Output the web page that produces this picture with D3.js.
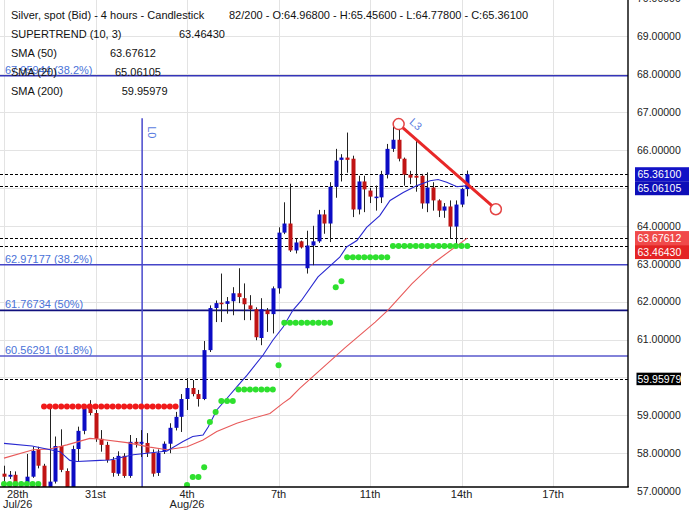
<!DOCTYPE html>
<html><head><meta charset="utf-8">
<script src="https://cdn.jsdelivr.net/npm/d3@7"></script>
<style>body{margin:0;background:#fff}svg{display:block}text{font-family:"Liberation Sans",Arial,sans-serif}</style>
</head><body>
<svg id="chart" width="690" height="510"></svg>
<script>
// ---- data ----
const open  = [57.46,57.38,57.43,57.17,57.22,57.38,58.09,57.67,57.05,57.25,58.19,57.53,57.08,58.11,58.59,59.27,59.06,58.38,58.22,57.82,57.46,57.93,57.40,58.30,58.25,58.27,58.01,57.48,58.04,58.25,58.67,58.96,59.43,59.72,59.56,59.43,60.72,61.83,61.97,61.94,62.01,62.22,62.09,61.90,61.80,61.04,61.77,61.67,62.35,63.82,64.06,63.35,63.59,62.88,63.48,63.59,64.30,64.06,65.03,65.74,65.80,65.77,64.43,65.17,64.93,64.73,64.75,65.35,66.03,66.27,65.77,65.35,65.32,65.32,64.59,65.01,64.67,64.40,64.51,63.98,64.56,64.968];
const high  = [57.67,57.53,57.52,57.25,57.98,58.17,58.17,57.72,59.27,58.44,58.63,57.60,58.20,58.70,59.27,59.40,59.14,58.61,58.30,57.90,58.05,58.00,58.48,58.40,58.61,58.53,58.10,58.10,58.31,58.79,59.09,59.56,59.98,59.93,59.67,60.96,61.90,62.03,62.74,62.12,62.38,62.88,62.48,62.17,61.85,62.09,61.83,62.40,63.96,64.62,65.11,63.67,63.61,63.87,64.00,64.42,64.42,65.15,66.03,65.89,66.46,65.85,65.32,65.32,65.00,65.06,65.45,66.16,66.62,66.69,65.80,65.45,66.29,65.37,65.41,65.15,64.70,64.60,64.67,64.67,65.00,65.456];
const low   = [57.08,57.32,57.11,57.12,57.15,57.35,57.60,57.02,57.00,57.20,57.50,57.02,57.00,57.78,58.50,59.00,58.30,58.04,57.75,57.38,57.40,57.35,57.35,58.15,57.90,57.90,57.38,57.40,57.98,58.00,58.60,58.56,59.14,59.50,59.23,59.40,60.67,61.46,61.46,61.68,61.64,61.96,61.51,61.51,60.98,60.85,61.20,61.16,62.21,63.78,63.31,63.27,63.40,62.74,62.96,63.55,63.79,63.57,64.74,65.17,65.40,64.23,64.30,64.36,64.60,64.40,64.60,65.25,65.95,65.70,65.06,65.10,64.90,64.45,64.36,64.40,64.23,64.21,63.66,63.48,64.49,64.778];
const close = [57.38,57.43,57.19,57.22,57.38,58.06,57.67,57.08,57.25,58.19,57.56,57.08,58.11,58.59,59.19,59.06,58.38,58.22,57.82,57.48,57.93,57.40,58.30,58.25,58.30,58.01,57.46,58.01,58.25,58.67,58.96,59.43,59.72,59.56,59.43,60.72,61.83,61.96,61.94,62.01,62.22,62.12,61.93,61.80,61.06,61.80,61.67,62.35,63.82,64.06,63.35,63.56,63.43,63.48,63.59,64.30,64.06,65.03,65.72,65.80,65.74,64.43,65.17,64.96,64.77,64.77,65.35,66.03,66.27,65.77,65.35,65.27,65.27,64.59,65.01,64.67,64.40,64.51,63.98,64.56,64.97,65.361];

// supertrend (10,3): value per bar and direction (1 = up/green, -1 = down/red)
const supertrend = [57.19,57.19,57.19,57.19,57.19,57.19,57.19,
  59.23,59.23,59.23,59.23,59.23,59.23,59.23,59.23,59.23,59.23,59.23,59.23,59.23,59.23,59.23,59.23,59.23,59.23,59.23,59.23,59.23,59.23,59.23,59.23,
  null,
  57.16,57.37,57.37,57.63,58.82,59.09,59.38,59.38,59.38,
  59.68,59.68,59.68,59.68,59.68,59.68,59.68,
  60.32,
  61.44,61.44,61.44,61.44,61.44,61.44,61.44,61.44,61.44,
  62.38,62.54,
  63.17,63.17,63.17,63.17,63.17,63.17,63.17,63.17,
  63.4643,63.4643,63.4643,63.4643,63.4643,63.4643,63.4643,63.4643,63.4643,63.4643,63.4643,63.4643,63.4643,63.4643];
const supertrendDir = [1,1,1,1,1,1,1,
  -1,-1,-1,-1,-1,-1,-1,-1,-1,-1,-1,-1,-1,-1,-1,-1,-1,-1,-1,-1,-1,-1,-1,-1,
  0,
  1,1,1,1,1,1,1,1,1, 1,1,1,1,1,1,1, 1, 1,1,1,1,1,1,1,1,1, 1,1, 1,1,1,1,1,1,1,1,
  1,1,1,1,1,1,1,1,1,1,1,1,1,1];

// SMA lines as [bar index, value]
const sma20 = [[0,58.26],[4.9,58.19],[9.8,58.04],[11.5,57.81],[12.8,57.78],[16.8,57.81],[18.5,57.82],[22.6,57.96],[25,58.0],[28.5,58.06],[31.3,58.31],[33,58.44],[34.8,58.48],[35.7,58.69],[37.2,59.14],[39,59.45],[40.7,59.75],[42.5,60.06],[45.3,60.59],[47,60.98],[48.8,61.33],[50.5,61.77],[52,62.03],[54.9,62.65],[58.7,63.17],[59.9,63.44],[61.7,63.61],[63.4,63.96],[65.7,64.27],[67.5,64.67],[69.8,64.88],[72.2,65.06],[74.5,65.19],[75.9,65.22],[77.4,65.15],[79.2,65.03],[81,65.06105]];
const sma50 = [[0,57.87],[5.1,58.09],[8,58.11],[11,58.22],[15,58.39],[16.8,58.37],[21.5,58.28],[25.5,58.16],[28.5,58.09],[32,58.17],[34.8,58.35],[37.2,58.57],[40.7,58.79],[43.5,58.92],[46.5,59.05],[48.8,59.32],[50,59.45],[51.7,59.71],[59.6,60.78],[64.9,61.46],[67.1,61.77],[71.3,62.47],[75.3,63.04],[81,63.67612]];

// Fibonacci levels
const fibValues = [67.95944, 62.97177, 61.76734, 60.56291];
const fibLabels = ["67.95944 (38.2%)", "62.97177 (38.2%)", "61.76734 (50%)", "60.56291 (61.8%)"];

// dashed reference levels (last price, SMA20, SMA50, supertrend, SMA200)
const levelValues = [65.361, 65.06105, 63.67612, 63.4643, 59.95979];

// trend line L3 (bar index, price) and vertical line L0
const trendIdx = [69, 86];
const trendVal = [66.684, 64.437];
const l0Idx = 24.15;
const l0Top = 66.84;

// axes
const yTicks = [57,58,59,60,61,62,63,64,65,66,67,68,69,70];
const xTickIdx = [0,16,32,48,64,80,96];
const xTickDay = ["28th","31st","4th","7th","11th","14th","17th"];
const xTickMonth = ["Jul/26","","Aug/26","","","",""];

const infoNames = ["SUPERTREND (10, 3)", "SMA (50)", "SMA (20)", "SMA (200)"];
const infoValues = ["63.46430", "63.67612", "65.06105", "59.95979"];

// ---- drawing ----
const svg = d3.select("#chart");
const W = 628, H = 487;
const x = d3.scaleLinear().domain([-0.7, 109.1]).range([0, W]);
const y = d3.scaleLinear().domain([57, 70]).range([491.1, -1.6]);
const font = '"Liberation Sans",Arial,sans-serif';

svg.append("defs").append("clipPath").attr("id","plot")
  .append("rect").attr("x",0).attr("y",0).attr("width",W).attr("height",H);

const grid = svg.append("g").attr("clip-path","url(#plot)");
grid.selectAll("line.h").data(yTicks).join("line")
  .attr("x1",0).attr("x2",W).attr("y1",d=>Math.round(y(d))+0.5).attr("y2",d=>Math.round(y(d))+0.5)
  .attr("stroke","#e3e3e3").attr("stroke-width",1);
grid.selectAll("line.v").data(xTickIdx).join("line")
  .attr("x1",d=>Math.round(x(d))+0.5).attr("x2",d=>Math.round(x(d))+0.5).attr("y1",0).attr("y2",H)
  .attr("stroke","#e3e3e3").attr("stroke-width",1);

const plot = svg.append("g").attr("clip-path","url(#plot)");

// fib lines
const fibColors = ["#3535b8","#4545c8","#10107e","#5858cc"];
plot.selectAll("line.fib").data(fibValues).join("line")
  .attr("x1",0).attr("x2",W).attr("y1",d=>y(d)).attr("y2",d=>y(d))
  .attr("stroke",(d,i)=>fibColors[i]).attr("stroke-width",1.6);

// dashed levels
plot.selectAll("line.lvl").data(levelValues).join("line")
  .attr("x1",0).attr("x2",W).attr("y1",d=>Math.round(y(d))+0.5).attr("y2",d=>Math.round(y(d))+0.5)
  .attr("stroke","#000").attr("stroke-width",1).attr("stroke-dasharray","3,2");

// vertical L0
plot.append("line").attr("x1",x(l0Idx)).attr("x2",x(l0Idx)).attr("y1",y(l0Top)).attr("y2",H)
  .attr("stroke","#4848cc").attr("stroke-width",1.5);

// candles
const idx = d3.range(close.length);
const cg = plot.append("g");
cg.selectAll("line.wick").data(idx).join("line")
  .attr("x1",i=>Math.round(x(i))+0.5).attr("x2",i=>Math.round(x(i))+0.5)
  .attr("y1",i=>y(high[i])).attr("y2",i=>y(low[i]))
  .attr("stroke","#222").attr("stroke-width",1);
cg.selectAll("rect.body").data(idx).join("rect")
  .attr("x",i=>Math.round(x(i))-1.5).attr("width",4)
  .attr("y",i=>y(Math.max(open[i],close[i])))
  .attr("height",i=>Math.max(1.5, Math.abs(y(open[i])-y(close[i]))))
  .attr("fill",i=>close[i]>=open[i] ? "#0c0cc4" : "#c01414");

// SMA lines
const line = d3.line().x(d=>x(d[0])).y(d=>y(d[1]));
plot.append("path").attr("d",line(sma50)).attr("fill","none").attr("stroke","#e85a5a").attr("stroke-width",1.1);
plot.append("path").attr("d",line(sma20)).attr("fill","none").attr("stroke","#2828d0").attr("stroke-width",1.1);

// supertrend dots
plot.selectAll("circle.st").data(idx.filter(i=>supertrend[i]!==null)).join("circle")
  .attr("cx",i=>x(i)).attr("cy",i=>y(supertrend[i])).attr("r",3)
  .attr("fill",i=>supertrendDir[i]>0 ? "#2ee02e" : "#f01a1a");

// trend line L3
const tx1=x(trendIdx[0]), ty1=y(trendVal[0]), tx2=x(trendIdx[1]), ty2=y(trendVal[1]);
plot.append("line").attr("x1",tx1).attr("y1",ty1).attr("x2",tx2).attr("y2",ty2)
  .attr("stroke","#e82828").attr("stroke-width",3);
plot.selectAll("circle.tp").data([0,1]).join("circle")
  .attr("cx",k=>x(trendIdx[k])).attr("cy",k=>y(trendVal[k])).attr("r",5.5)
  .attr("fill","#fff").attr("stroke","#e44444").attr("stroke-width",1.5);
const ang = Math.atan2(ty2-ty1, tx2-tx1)*180/Math.PI;
svg.append("text").attr("transform",`translate(${tx1+10},${ty1-1}) rotate(${ang})`)
  .attr("font-size",11).attr("fill","#5a7ce0").text("L3");
svg.append("text").attr("transform",`translate(${x(l0Idx)+6},${y(l0Top)+8}) rotate(90)`)
  .attr("font-size",11).attr("fill","#5a7ce0").text("L0");

// fib labels
svg.selectAll("text.fib").data(fibValues).join("text")
  .attr("x",5).attr("y",d=>y(d)-2).attr("font-size",11).attr("fill","#4a72d8")
  .text((d,i)=>fibLabels[i]);

// axes lines
svg.append("line").attr("x1",0).attr("x2",W+0.75).attr("y1",H).attr("y2",H).attr("stroke","#000").attr("stroke-width",1.6);
svg.append("line").attr("x1",W).attr("x2",W).attr("y1",0).attr("y2",H).attr("stroke","#000").attr("stroke-width",1.4);

// y tick labels
svg.selectAll("text.yt").data(yTicks).join("text")
  .attr("x",637).attr("y",d=>y(d)+3.8).attr("font-size",10.5).attr("fill","#222")
  .text(d=>d.toFixed(5));

// value boxes
const boxColors = ["#1212c6","#0e0eb8","#f04a4a","#e42424","#000"];
let prev = -100;
levelValues.forEach((v,i)=>{
  let cy = y(v);
  if (i<4 && cy - prev < 14) cy = prev + 14;
  if (i<4) prev = cy;
  const bx = i<4 ? 635 : 636.5, bw = i<4 ? 54 : 44.5, bh = i<4 ? 14 : 12.5;
  svg.append("rect").attr("x",bx).attr("y",cy-bh/2).attr("width",bw).attr("height",bh).attr("fill",boxColors[i]);
  svg.append("text").attr("x",637.5).attr("y",cy+3.8).attr("font-size",10.5).attr("fill","#fff").text(v.toFixed(5));
});

// x tick labels
xTickIdx.forEach((t,i)=>{
  let cx = x(t);
  const g = svg.append("g");
  const t1 = g.append("text").attr("y",497.5).attr("font-size",11).attr("fill","#222").attr("text-anchor","middle").text(xTickDay[i]);
  const t2 = g.append("text").attr("y",507.5).attr("font-size",11).attr("fill","#222").attr("text-anchor","middle").text(xTickMonth[i]);
  const w = Math.max(t1.node().getComputedTextLength(), t2.node().getComputedTextLength());
  if (cx - w/2 < 3) cx = 3 + w/2;
  t1.attr("x",cx); t2.attr("x",cx);
});

// info text
svg.append("text").attr("x",11).attr("y",19).attr("font-size",11).attr("fill","#111").text("Silver, spot (Bid) - 4 hours - Candlestick");
svg.append("text").attr("x",229).attr("y",19).attr("font-size",11).attr("fill","#111")
  .text(`82/200 - O:${open[81].toFixed(5)} - H:${high[81].toFixed(5)} - L:${low[81].toFixed(5)} - C:${close[81].toFixed(5)}`);
const valX = [179,110,115,121.7];
infoNames.forEach((n,i)=>{
  svg.append("text").attr("x",11).attr("y",38+19*i).attr("font-size",11).attr("fill","#111").text(n);
  svg.append("text").attr("x",valX[i]).attr("y",38+19*i).attr("font-size",11).attr("fill","#111").text(infoValues[i]);
});
</script>
</body></html>
